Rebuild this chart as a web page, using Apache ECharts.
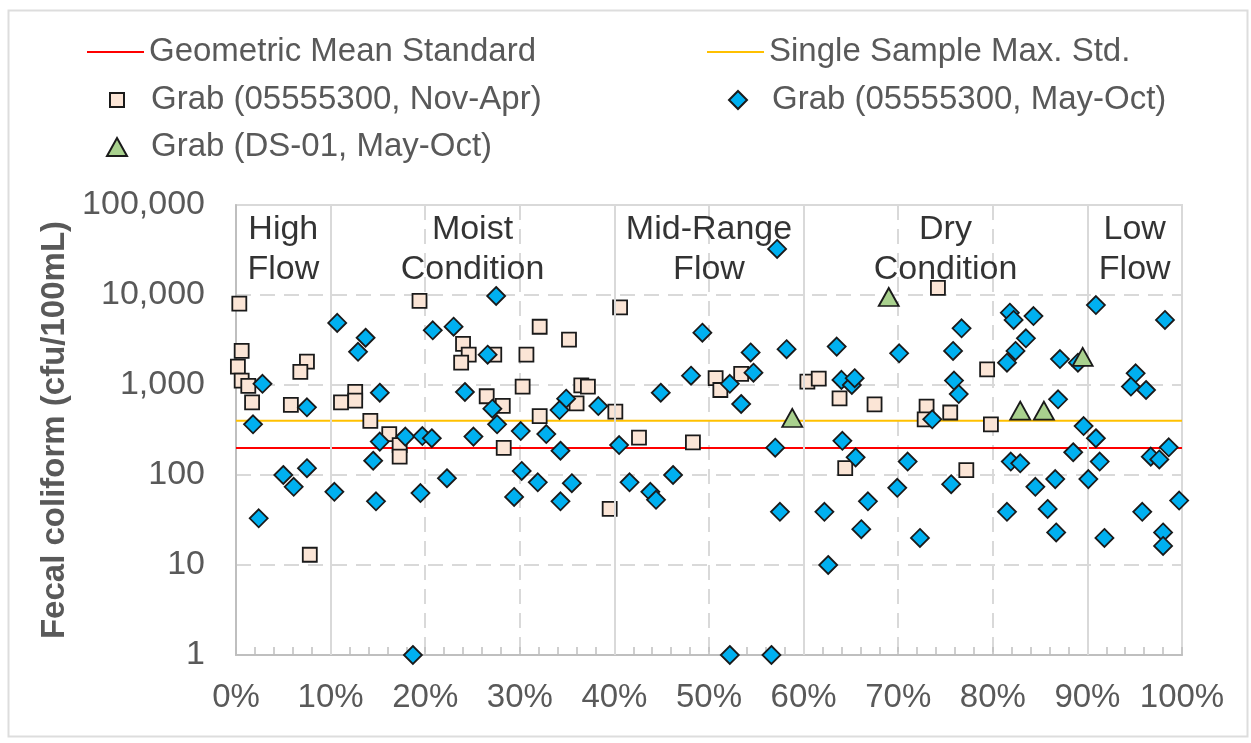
<!DOCTYPE html>
<html>
<head>
<meta charset="utf-8">
<script src="https://cdn.jsdelivr.net/npm/echarts@6/dist/echarts.min.js"></script>
<style>html,body{margin:0;padding:0;background:#fff}#c{width:1251px;height:743px}</style>
</head>
<body>
<div id="c"></div>
<script>
// ---- data ----
const zoneNames = ['High\nFlow', 'Moist\nCondition', 'Mid-Range\nFlow', 'Dry\nCondition', 'Low\nFlow'];
const zoneBounds = [0, 10, 40, 60, 90, 100];
const gmStandard = 200;
const singleSampleMax = 400;
const zoneLabelLevel = 31623;

// Grab (05555300, Nov-Apr): [flow exceedance %, cfu/100mL]
const grabNovApr = [
  [0.35, 8000], [0.6, 2400], [0.2, 1600], [0.6, 1120], [1.3, 980], [1.7, 640], [5.8, 600], [7.5, 1820], [6.8, 1400], [7.8, 13],
  [12.6, 840], [12.6, 670], [11.1, 640], [14.2, 400], [16.2, 285], [17.3, 215], [17.3, 160], [19.4, 8600],
  [24.0, 2860], [24.6, 2170], [23.8, 1770], [27.3, 2170], [32.1, 4440], [35.2, 3190], [30.7, 2170], [30.3, 960],
  [26.5, 750], [28.2, 585], [36.5, 990], [37.2, 960], [36.0, 625], [32.1, 450], [28.3, 200], [39.5, 42], [40.1, 505],
  [40.6, 7300], [42.6, 260], [48.3, 230], [50.7, 1190], [51.2, 880], [53.4, 1330], [60.4, 1090], [61.6, 1175],
  [63.8, 710], [64.4, 119], [67.5, 610], [73.0, 575], [72.8, 415], [74.2, 12000], [75.5, 495], [77.2, 113], [79.4, 1490], [79.8, 366]
];

// Grab (05555300, May-Oct)
const grabMayOct = [
  [2.8, 1030], [1.8, 366], [7.5, 565], [5.0, 100], [6.1, 74], [7.5, 119], [2.4, 33],
  [10.7, 4900], [13.7, 3350], [12.9, 2340], [15.2, 820], [20.8, 4050], [23.0, 4440], [27.5, 9750], [26.6, 2170],
  [24.2, 836], [27.1, 545], [27.6, 366], [34.9, 704], [34.2, 527], [38.3, 584], [15.2, 235], [17.9, 267], [19.7, 271],
  [20.7, 256], [14.5, 144], [10.4, 65], [14.8, 51], [19.5, 63], [22.3, 92], [18.7, 1], [25.1, 267], [30.1, 308],
  [32.8, 285], [34.3, 186], [30.2, 111], [31.9, 83], [35.5, 81], [29.4, 57], [34.3, 51],
  [40.5, 215], [41.6, 83], [43.8, 65], [44.4, 53], [46.2, 100], [44.9, 820], [49.3, 3810], [48.1, 1270], [52.2, 1030],
  [54.4, 2300], [54.7, 1370], [53.4, 615], [57.2, 32500], [58.2, 2500], [57.0, 201], [57.5, 39], [52.2, 1], [56.6, 1],
  [63.5, 2670], [64.0, 1140], [65.1, 1000], [65.4, 1190], [70.1, 2250], [73.6, 416], [64.1, 240], [65.5, 157],
  [71.0, 141], [69.9, 72], [66.8, 51], [62.2, 39], [66.1, 25], [72.3, 20], [62.6, 10], [76.7, 4270], [75.8, 2390],
  [75.9, 1120], [76.4, 794], [81.5, 1770], [81.8, 6360], [82.2, 5280], [84.3, 5840], [83.5, 3300], [82.4, 2390],
  [86.9, 693], [87.1, 1940], [89.0, 1770], [89.6, 350], [81.9, 141], [82.9, 135], [75.6, 79], [84.5, 74], [86.6, 90],
  [81.5, 39], [85.8, 42], [86.7, 23], [88.5, 179],
  [90.9, 7740], [98.2, 5280], [95.1, 1350], [94.6, 960], [96.2, 880], [90.9, 256], [98.6, 203], [96.7, 160],
  [97.6, 149], [91.3, 141], [90.1, 90], [95.8, 39], [99.7, 52], [91.8, 20], [98.0, 23], [98.0, 16.3]
];

// Grab (DS-01, May-Oct)
const grabDS01 = [[69.0, 9500], [58.8, 430], [89.5, 2050], [82.9, 520], [85.4, 520]];

// ---- chart ----
const FONT = 'Liberation Sans, Arial, sans-serif';
const GRID_C = '#D9D9D9';
const chart = echarts.init(document.getElementById('c'));

function legendBox(name, left, top, w, h, icon, padLeft) {
  const lg = {
    data: [{ name: name, icon: icon }], left: left, top: top, orient: 'horizontal', padding: 0,
    itemWidth: w, itemHeight: h, itemGap: 0, selectedMode: false,
    textStyle: { fontSize: 33, color: '#595959', fontFamily: FONT, lineHeight: 34, padding: [0, 0, 0, padLeft] }
  };
  return lg;
}

const zoneCenters = zoneNames.map((n, i) => ({ name: n, value: [(zoneBounds[i] + zoneBounds[i + 1]) / 2, zoneLabelLevel] }));
const zoneLines = zoneBounds.slice(1, -1).map(b => ({ xAxis: b }));

chart.setOption({
  backgroundColor: '#fff',
  animation: false,
  textStyle: { fontFamily: FONT },
  graphic: [{
    type: 'rect', left: 6, top: 8, shape: { width: 1239, height: 726 },
    style: { fill: 'none', stroke: '#DDDDDD', lineWidth: 2 }, silent: true, z: -10
  }],
  legend: [
    legendBox('Geometric Mean Standard', 87, 35, 57, 2, 'rect', 0),
    legendBox('Grab (05555300, Nov-Apr)', 109, 83, 14, 14, 'rect', 22),
    legendBox('Grab (DS-01, May-Oct)', 106, 130, 20, 18, 'triangle', 19),
    legendBox('Single Sample Max. Std.', 707, 35, 57, 2, 'rect', 0),
    legendBox('Grab (05555300, May-Oct)', 728, 83, 18, 18, 'diamond', 20)
  ],
  grid: { left: 236, right: 69, top: 205, bottom: 88, show: true, borderColor: GRID_C, borderWidth: 2, containLabel: false },
  xAxis: {
    type: 'value', min: 0, max: 100, interval: 10,
    axisLine: { show: true, lineStyle: { color: '#BFBFBF', width: 2 } },
    axisTick: { show: true, inside: true, length: 8, lineStyle: { color: '#BFBFBF', width: 1.5 } },
    minorTick: { show: true, splitNumber: 5, length: 8, lineStyle: { color: '#BFBFBF', width: 1.5 } },
    splitLine: { show: true, lineStyle: { color: GRID_C, width: 2, type: [15, 9] } },
    axisLabel: { formatter: '{value}%', fontSize: 33, color: '#595959', margin: 26, fontFamily: FONT }
  },
  yAxis: {
    type: 'log', logBase: 10, min: 1, max: 100000,
    name: 'Fecal coliform (cfu/100mL)', nameLocation: 'middle', nameGap: 163, nameRotate: 90,
    nameTextStyle: { fontSize: 33, fontWeight: 'bold', color: '#595959', fontFamily: FONT },
    axisLine: { show: true, lineStyle: { color: '#BFBFBF', width: 2 } },
    axisTick: { show: false },
    splitLine: { show: true, lineStyle: { color: GRID_C, width: 2, type: [15, 9] } },
    axisLabel: { formatter: v => Math.round(v).toLocaleString('en-US'), fontSize: 34, color: '#595959', margin: 31, fontFamily: FONT }
  },
  series: [
    {
      name: 'zones', type: 'line', data: [], z: 1, silent: true,
      markLine: {
        silent: true, symbol: 'none', label: { show: false },
        lineStyle: { color: GRID_C, width: 2, type: 'solid' },
        data: zoneLines, animation: false
      }
    },
    {
      name: 'zoneLabels', type: 'scatter', data: zoneCenters, symbolSize: 1, z: 2, silent: true,
      itemStyle: { color: 'rgba(0,0,0,0)' },
      label: { show: true, position: 'inside', formatter: p => p.name, fontSize: 34, lineHeight: 40, color: '#000', fontFamily: FONT, align: 'center' }
    },
    {
      name: 'Geometric Mean Standard', type: 'line', data: [[0, gmStandard], [100, gmStandard]], z: 3,
      symbol: 'none', showSymbol: false, lineStyle: { color: '#FF0000', width: 2 }, itemStyle: { color: '#FF0000' }
    },
    {
      name: 'Single Sample Max. Std.', type: 'line', data: [[0, singleSampleMax], [100, singleSampleMax]], z: 3,
      symbol: 'none', showSymbol: false, lineStyle: { color: '#FFC000', width: 2 }, itemStyle: { color: '#FFC000' }
    },
    {
      name: 'Grab (05555300, Nov-Apr)', type: 'scatter', data: grabNovApr, z: 4,
      symbol: 'rect', symbolSize: 14,
      itemStyle: { color: '#FBE5D6', borderColor: '#1a1a1a', borderWidth: 1.8, opacity: 1 }
    },
    {
      name: 'Grab (05555300, May-Oct)', type: 'scatter', data: grabMayOct, z: 5,
      symbol: 'diamond', symbolSize: 18,
      itemStyle: { color: '#00B0F0', borderColor: '#1a1a1a', borderWidth: 1.8, opacity: 1 }
    },
    {
      name: 'Grab (DS-01, May-Oct)', type: 'scatter', data: grabDS01, z: 6,
      symbol: 'triangle', symbolSize: [20, 18],
      itemStyle: { color: '#A9D18E', borderColor: '#1a1a1a', borderWidth: 1.8, opacity: 1 }
    }
  ]
});
</script>
</body>
</html>
